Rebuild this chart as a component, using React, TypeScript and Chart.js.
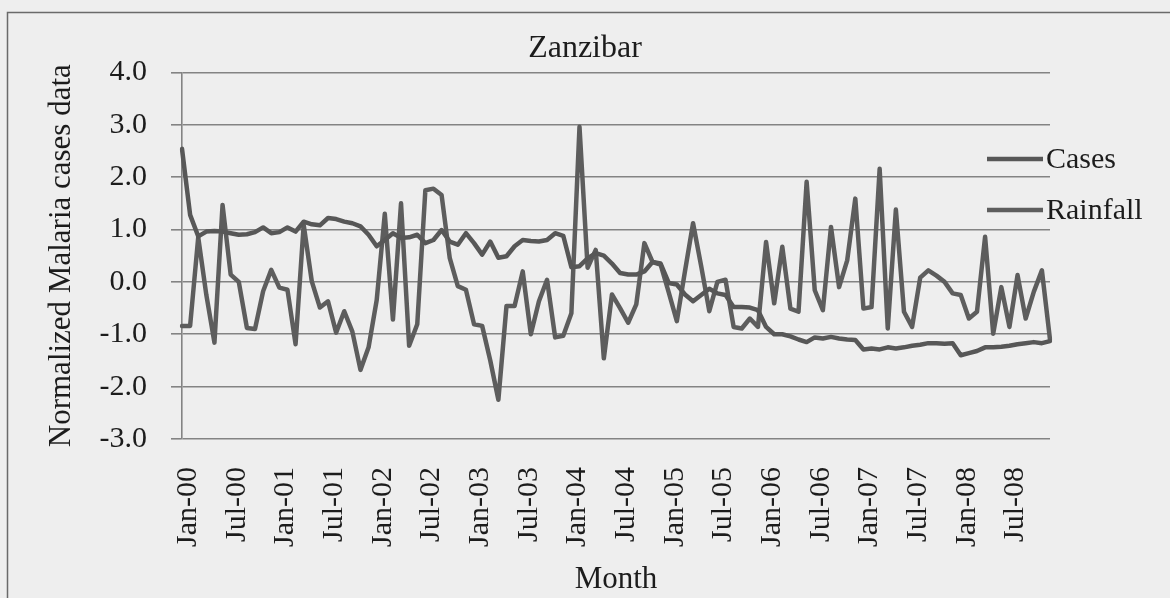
import React, { useEffect, useRef } from "react";
import Chart from "chart.js/auto";

const MONTHS = ["Jan", "Feb", "Mar", "Apr", "May", "Jun", "Jul", "Aug", "Sep", "Oct", "Nov", "Dec"];
const YEARS = ["00", "01", "02", "03", "04", "05", "06", "07", "08"];
const categories: string[] = YEARS.flatMap((y) => MONTHS.map((m) => `${m}-${y}`));

const shownTicks = [
  "Jan-00", "Jul-00", "Jan-01", "Jul-01", "Jan-02", "Jul-02", "Jan-03", "Jul-03", "Jan-04",
  "Jul-04", "Jan-05", "Jul-05", "Jan-06", "Jul-06", "Jan-07", "Jul-07", "Jan-08", "Jul-08",
];

const yTicks = [4, 3, 2, 1, 0, -1, -2, -3];

const cases = [
  2.54, 1.28, 0.87, 0.96, 0.97, 0.96, 0.93, 0.9, 0.91, 0.95, 1.04, 0.93,
  0.95, 1.04, 0.96, 1.15, 1.1, 1.08, 1.22, 1.2, 1.15, 1.12, 1.06, 0.9,
  0.68, 0.8, 0.93, 0.84, 0.85, 0.9, 0.74, 0.8, 0.99, 0.77, 0.71, 0.93,
  0.74, 0.52, 0.77, 0.46, 0.49, 0.68, 0.8, 0.78, 0.77, 0.8, 0.93, 0.88,
  0.28, 0.3, 0.45, 0.55, 0.5, 0.35, 0.17, 0.14, 0.14, 0.2, 0.38, 0.35,
  -0.02, -0.05, -0.24, -0.37, -0.25, -0.13, -0.22, -0.25, -0.48, -0.48, -0.49, -0.54,
  -0.86, -1.0, -1.0, -1.04, -1.1, -1.15, -1.06, -1.08, -1.05, -1.08, -1.1, -1.11,
  -1.29, -1.27, -1.29, -1.25, -1.27, -1.25, -1.22, -1.2, -1.17, -1.17, -1.18, -1.17,
  -1.4, -1.36, -1.32, -1.25, -1.25, -1.24, -1.22, -1.19, -1.17, -1.15, -1.17, -1.13,
];

const rainfall = [
  -0.84, -0.84, 0.85, -0.25, -1.16, 1.47, 0.14, 0.0, -0.88, -0.9, -0.18, 0.23,
  -0.11, -0.15, -1.19, 1.09, 0.01, -0.49, -0.37, -0.97, -0.56, -0.95, -1.68, -1.25,
  -0.35, 1.3, -0.72, 1.5, -1.22, -0.81, 1.75, 1.78, 1.66, 0.46, -0.08, -0.15,
  -0.81, -0.84, -1.5, -2.25, -0.46, -0.46, 0.2, -1.0, -0.37, 0.04, -1.06, -1.03,
  -0.6, 2.96, 0.27, 0.61, -1.46, -0.24, -0.5, -0.78, -0.43, 0.74, 0.38, 0.33,
  -0.2, -0.75, 0.2, 1.12, 0.3, -0.56, 0.0, 0.04, -0.86, -0.89, -0.7, -0.86,
  0.76, -0.41, 0.67, -0.51, -0.57, 1.91, -0.16, -0.54, 1.05, -0.1, 0.41, 1.59,
  -0.51, -0.48, 2.16, -0.89, 1.38, -0.57, -0.86, 0.08, 0.22, 0.12, 0.0, -0.22,
  -0.25, -0.7, -0.57, 0.86, -0.99, -0.1, -0.86, 0.13, -0.7, -0.19, 0.22, -1.1,
];

const FONT = "'Liberation Serif', 'Times New Roman', serif";
const TEXT = "#1c1c1c";
const GRID = "#838383";

const backgroundPlugin = {
  id: "scanBackground",
  beforeDraw(chart: any) {
    const { ctx, width, height } = chart;
    ctx.save();
    ctx.fillStyle = "#eeeeee";
    ctx.fillRect(0, 0, width, height);
    ctx.strokeStyle = "#6a6a6a";
    ctx.lineWidth = 1.5;
    ctx.strokeRect(7.5, 12.5, width + 50, height + 50);
    ctx.restore();
  },
};

const legendPlugin = {
  id: "sideLegend",
  afterDraw(chart: any) {
    const { ctx } = chart;
    const rows = [159, 210];
    ctx.save();
    chart.data.datasets.forEach((ds: any, i: number) => {
      const y = rows[i];
      ctx.strokeStyle = ds.borderColor;
      ctx.lineWidth = 4.5;
      ctx.beginPath();
      ctx.moveTo(987, y);
      ctx.lineTo(1043, y);
      ctx.stroke();
      ctx.fillStyle = TEXT;
      ctx.font = `30px ${FONT}`;
      ctx.textBaseline = "middle";
      ctx.textAlign = "left";
      ctx.fillText(ds.label, 1046, y + 1);
    });
    ctx.restore();
  },
};

export default function App() {
  const ref = useRef<HTMLCanvasElement>(null);

  useEffect(() => {
    const canvas = ref.current;
    if (!canvas) return;
    const chart = new Chart(canvas, {
      type: "line",
      data: {
        labels: categories,
        datasets: [
          {
            label: "Cases",
            data: cases,
            borderColor: "#575757",
            borderWidth: 4.5,
            pointRadius: 0,
            tension: 0,
            fill: false,
            borderJoinStyle: "round",
            borderCapStyle: "round",
          },
          {
            label: "Rainfall",
            data: rainfall,
            borderColor: "#5d5d5d",
            borderWidth: 4.5,
            pointRadius: 0,
            tension: 0,
            fill: false,
            borderJoinStyle: "round",
            borderCapStyle: "round",
          },
        ],
      },
      options: {
        responsive: false,
        maintainAspectRatio: false,
        animation: false,
        events: [],
        layout: { padding: { left: 0, right: 0, top: 0, bottom: 0 } },
        plugins: {
          legend: { display: false },
          tooltip: { enabled: false },
          title: {
            display: true,
            text: "Zanzibar",
            color: TEXT,
            font: { family: FONT, size: 32, weight: "normal" },
            padding: { top: 29, bottom: 5 },
          },
        },
        scales: {
          x: {
            type: "category",
            offset: false,
            grid: { display: false, drawTicks: false },
            border: { display: false },
            ticks: {
              autoSkip: false,
              minRotation: 90,
              maxRotation: 90,
              padding: 28,
              labelOffset: 6,
              color: TEXT,
              font: { family: FONT, size: 30 },
              callback: (_v: any, idx: number) =>
                shownTicks.includes(categories[idx]) ? categories[idx] : "",
            },
            title: {
              display: true,
              text: "Month",
              color: TEXT,
              font: { family: FONT, size: 31 },
              padding: { top: 0, bottom: 0 },
            },
            afterFit: (s: any) => {
              s.height = 159;
            },
          },
          y: {
            min: yTicks[yTicks.length - 1],
            max: yTicks[0],
            afterBuildTicks: (s: any) => {
              s.ticks = yTicks.map((v) => ({ value: v }));
            },
            ticks: {
              padding: 24,
              color: TEXT,
              font: { family: FONT, size: 30 },
              callback: (v: any) => Number(v).toFixed(1),
            },
            grid: { color: GRID, lineWidth: 1.6, tickLength: 11, drawTicks: true },
            border: { display: true, color: GRID, width: 1.6 },
            title: {
              display: true,
              text: "Normalized Malaria cases data",
              color: TEXT,
              font: { family: FONT, size: 31 },
              padding: { top: 43, bottom: 0 },
            },
            afterFit: (s: any) => {
              s.width = 182;
            },
          },
          yRightSpace: {
            type: "linear",
            position: "right",
            display: true,
            min: yTicks[yTicks.length - 1],
            max: yTicks[0],
            ticks: { display: false },
            grid: { display: false, drawTicks: false },
            border: { display: false },
            title: { display: false },
            afterFit: (s: any) => {
              s.width = 120;
            },
          },
        },
      },
      plugins: [backgroundPlugin, legendPlugin],
    } as any);
    return () => chart.destroy();
  }, []);

  return (
    <div style={{ position: "fixed", left: 0, top: 0, width: 1170, height: 598, background: "#eeeeee" }}>
      <canvas ref={ref} width={1170} height={598} style={{ display: "block", width: 1170, height: 598 }} />
    </div>
  );
}
